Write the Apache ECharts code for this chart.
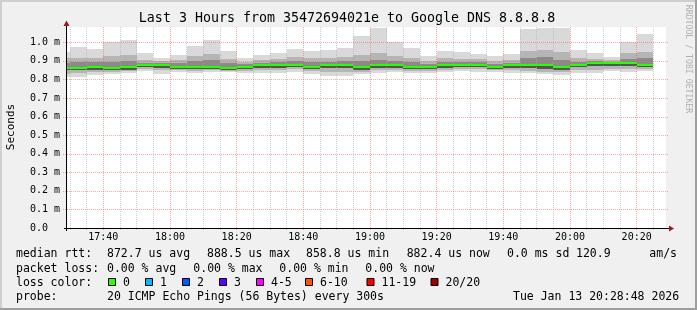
<!DOCTYPE html>
<html><head><meta charset="utf-8">
<script src="https://cdn.jsdelivr.net/npm/echarts@6/dist/echarts.min.js"></script>
<style>html,body{margin:0;padding:0;background:#f0f0f0;overflow:hidden}#c{width:697px;height:310px}</style>
</head><body><div id="c"></div>
<script>
// ---- data (ms) ----
const slotStarts = ['17:25','17:30','17:35','17:40','17:45','17:50','17:55','18:00','18:05','18:10','18:15','18:20',
  '18:25','18:30','18:35','18:40','18:45','18:50','18:55','19:00','19:05','19:10','19:15','19:20',
  '19:25','19:30','19:35','19:40','19:45','19:50','19:55','20:00','20:05','20:10','20:15','20:20'];
const medianRtt = [0.859,0.859,0.864,0.859,0.864,0.875,0.875,0.868,0.864,0.868,0.862,0.866,
  0.875,0.875,0.880,0.866,0.875,0.875,0.864,0.875,0.875,0.864,0.866,0.875,
  0.875,0.880,0.868,0.875,0.875,0.875,0.868,0.880,0.886,0.886,0.886,0.880];
const smokeMax = [0.950,0.976,0.965,0.999,1.013,0.943,0.916,0.931,0.981,1.010,0.954,0.913,
  0.933,0.943,0.965,0.954,0.960,0.970,1.035,1.074,1.003,0.970,0.927,0.954,
  0.949,0.938,0.927,0.938,1.073,1.077,1.077,0.960,0.943,0.922,0.999,1.042];
const smokeHi2 = [0.915,0.916,0.915,0.925,0.930,0.905,0.900,0.905,0.925,0.935,0.910,0.895,
  0.905,0.910,0.920,0.915,0.915,0.920,0.930,0.940,0.925,0.915,0.900,0.915,
  0.912,0.910,0.900,0.905,0.954,0.960,0.945,0.915,0.910,0.905,0.940,0.950];
const smokeHi1 = [0.890,0.895,0.893,0.895,0.900,0.890,0.888,0.890,0.900,0.905,0.890,0.882,
  0.890,0.892,0.898,0.893,0.895,0.897,0.900,0.905,0.900,0.893,0.885,0.895,
  0.893,0.895,0.885,0.890,0.915,0.920,0.905,0.895,0.898,0.895,0.910,0.915];
const smokeLo1 = [0.848,0.848,0.852,0.850,0.853,0.865,0.862,0.858,0.855,0.858,0.853,0.856,
  0.863,0.863,0.868,0.856,0.860,0.860,0.853,0.863,0.863,0.854,0.856,0.863,
  0.864,0.868,0.858,0.862,0.860,0.858,0.852,0.865,0.870,0.872,0.872,0.868];
const smokeLo2 = [0.830,0.834,0.838,0.840,0.843,0.855,0.848,0.850,0.845,0.850,0.847,0.845,
  0.850,0.850,0.855,0.843,0.840,0.840,0.842,0.850,0.852,0.846,0.845,0.852,
  0.855,0.855,0.850,0.850,0.845,0.842,0.838,0.848,0.852,0.858,0.855,0.855];
const smokeMin = [0.814,0.814,0.825,0.830,0.834,0.845,0.830,0.841,0.836,0.841,0.841,0.834,
  0.837,0.837,0.841,0.830,0.819,0.819,0.830,0.837,0.841,0.837,0.834,0.841,
  0.845,0.841,0.841,0.837,0.834,0.830,0.826,0.834,0.837,0.845,0.841,0.845];
const lossCount = new Array(36).fill(0);
const slotMinutes = 5;
const xStart = '17:28:48', xEnd = '20:28:48';
const xTickLabels = ['17:40','18:00','18:20','18:40','19:00','19:20','19:40','20:00','20:20'];
const yTickValues = [0,0.1,0.2,0.3,0.4,0.5,0.6,0.7,0.8,0.9,1.0];
const yMax = 1.082;
const lossLegend = ['0','1','2','3','4-5','6-10','11-19','20/20'];
const lossColors = ['#26ff00','#00b8ff','#0059ff','#5e00ff','#ff00ff','#ff5500','#ff0000','#a00000'];
const lossUpper = [0,1,2,3,5,10,19,20];

// ---- helpers ----
function toMin(s){const p=s.split(':').map(Number);return p[0]*60+p[1]+(p[2]||0)/60;}
function fmtMin(v){const h=Math.floor(v/60),m=Math.round(v-h*60);return (h<10?'0':'')+h+':'+(m<10?'0':'')+m;}
function clip(r,c){const x0=Math.max(r.x,c.x),y0=Math.max(r.y,c.y),x1=Math.min(r.x+r.width,c.x+c.width),y1=Math.min(r.y+r.height,c.y+c.height);
  if(x1<=x0||y1<=y0)return null;return {x:x0,y:y0,width:x1-x0,height:y1-y0};}
function lossColor(n){for(let i=0;i<lossUpper.length;i++){if(n<=lossUpper[i])return lossColors[i];}return lossColors[lossColors.length-1];}
const MONO='"DejaVu Sans Mono", monospace';
const xMin=toMin(xStart), xMax=toMin(xEnd);

function bandSeries(lo,hi,color,z){
  return {type:'custom',z:z,silent:true,animation:false,
    data:slotStarts.map((s,i)=>[toMin(s),toMin(s)+slotMinutes,lo[i],hi[i]]),
    encode:{x:[0,1],y:[2,3]},
    renderItem:function(params,api){
      const a=api.coord([api.value(0),api.value(3)]), b=api.coord([api.value(1),api.value(2)]);
      const cs=params.coordSys;
      const x0=Math.round(a[0]),x1=Math.round(b[0]),y0=Math.round(a[1]),y1=Math.round(b[1]);
      const r=clip({x:x0,y:y0,width:x1-x0,height:y1-y0},{x:cs.x,y:cs.y,width:cs.width,height:cs.height});
      return r?{type:'rect',shape:r,style:{fill:color}}:null;
    }};
}

const majorTimes = xTickLabels.map(toMin);
const minorTimes=[];
for(let t=Math.ceil(xMin/5)*5;t<=xMax;t+=5){if(majorTimes.indexOf(t)<0)minorTimes.push(t);}

function vGridSeries(times,color,z){
  return {type:'custom',z:z,silent:true,animation:false,
    data:times.map(t=>[t,0]),encode:{x:0,y:1},
    renderItem:function(params,api){
      const cs=params.coordSys;const x=Math.floor(api.coord([api.value(0),0])[0])+0.5;
      return {type:'line',shape:{x1:x,y1:cs.y,x2:x,y2:cs.y+cs.height+2},style:{stroke:color,lineWidth:1,lineDash:[1,1]}};
    }};
}
function hGridSeries(vals,color,z){
  return {type:'custom',z:z,silent:true,animation:false,
    data:vals.map(v=>[xMin,v]),encode:{x:0,y:1},
    renderItem:function(params,api){
      const cs=params.coordSys;const y=Math.round(api.coord([xMin,api.value(1)])[1])+0.5;
      return {type:'line',shape:{x1:cs.x-3,y1:y,x2:cs.x+cs.width+3,y2:y},style:{stroke:color,lineWidth:1,lineDash:[1,1]}};
    }};
}
const medianSeries={type:'custom',z:8,silent:true,animation:false,
  data:slotStarts.map((s,i)=>[toMin(s),toMin(s)+slotMinutes,medianRtt[i],lossCount[i]]),
  encode:{x:[0,1],y:2},
  renderItem:function(params,api){
    const a=api.coord([api.value(0),api.value(2)]),b=api.coord([api.value(1),api.value(2)]);
    const cs=params.coordSys;const x0=Math.round(a[0]),x1=Math.round(b[0]),y=Math.round(a[1]);
    const r=clip({x:x0,y:y-1,width:x1-x0,height:2},{x:cs.x,y:cs.y,width:cs.width,height:cs.height});
    return r?{type:'rect',shape:r,style:{fill:lossColor(api.value(3))}}:null;
  }};

// ---- texts ----
const legendRows=[
  {y:254,items:[[16,'median rtt:'],[107,'872.7 us avg'],[207,'888.5 us max'],[306,'858.8 us min'],[406.7,'882.4 us now'],[507,'0.0 ms sd'],[576,'120.9'],[649.3,'am/s']]},
  {y:268.7,items:[[16,'packet loss:'],[107,'0.00 % avg'],[193.3,'0.00 % max'],[279.3,'0.00 % min'],[365.3,'0.00 % now']]},
  {y:282.7,items:[[16,'loss color:']]},
  {y:296.7,items:[[16,'probe:'],[107,'20 ICMP Echo Pings (56 Bytes) every 300s'],[513,'Tue Jan 13 20:28:48 2026']]}
];
const boxX=[108,145,182,219,256,305,366.5,430.5];
const LEGFONT='11.5px '+MONO;
const graphics=[
  {type:'rect',shape:{x:0,y:0,width:697,height:310},style:{fill:'#f0f0f0'},z:-10},
  {type:'rect',shape:{x:0,y:0,width:697,height:2},style:{fill:'#cfcfcf'},z:-9},
  {type:'rect',shape:{x:0,y:0,width:2,height:310},style:{fill:'#cfcfcf'},z:-9},
  {type:'rect',shape:{x:0,y:308,width:697,height:2},style:{fill:'#9e9e9e'},z:-9},
  {type:'rect',shape:{x:695,y:0,width:2,height:310},style:{fill:'#9e9e9e'},z:-9},
  {type:'rect',shape:{x:66,y:27,width:600,height:201},style:{fill:'#ffffff'},z:-8},
  {type:'text',x:347,y:19,style:{text:'Last 3 Hours from 35472694021e to Google DNS 8.8.8.8',font:'13.3px '+MONO,fill:'#000',align:'center',verticalAlign:'middle'}},
  {type:'text',x:11,y:127,rotation:Math.PI/2,style:{text:'Seconds',font:'11px '+MONO,fill:'#000',align:'center',verticalAlign:'middle'}},
  {type:'text',x:688,y:59,rotation:-Math.PI/2,style:{text:'RRDTOOL / TOBI OETIKER',font:'8.2px '+MONO,fill:'#b0b0b0',align:'center',verticalAlign:'middle'}},
  // axes
  {type:'line',shape:{x1:64,y1:228.5,x2:670,y2:228.5},style:{stroke:'#000',lineWidth:1},z:20},
  {type:'line',shape:{x1:66.5,y1:231,x2:66.5,y2:24},style:{stroke:'#000',lineWidth:1},z:20},
  {type:'polygon',shape:{points:[[669,225.5],[674,228.5],[669,231.5]]},style:{fill:'#9b1a1a'},z:21},
  {type:'polygon',shape:{points:[[63.5,26],[66.5,20.5],[69.5,26]]},style:{fill:'#9b1a1a'},z:21}
];
legendRows.forEach(r=>r.items.forEach(it=>graphics.push({type:'text',x:it[0],y:r.y,style:{text:it[1],font:LEGFONT,fill:'#000',align:'left',verticalAlign:'middle'}})));
lossLegend.forEach((lab,i)=>{
  graphics.push({type:'rect',shape:{x:boxX[i]+0.5,y:278.5,width:7,height:7},style:{fill:lossColors[i],stroke:'#000',lineWidth:1}});
  graphics.push({type:'text',x:boxX[i]+15,y:282.7,style:{text:lab,font:LEGFONT,fill:'#000',align:'left',verticalAlign:'middle'}});
});

const chart=echarts.init(document.getElementById('c'),null,{renderer:'canvas'});
chart.setOption({
  animation:false,
  backgroundColor:'transparent',
  grid:{left:66,top:27,width:600,height:201,containLabel:false},
  xAxis:{type:'value',min:xMin,max:xMax,
    axisLine:{show:false},axisTick:{show:false},splitLine:{show:false},
    axisLabel:{customValues:majorTimes,formatter:v=>fmtMin(v),fontFamily:'DejaVu Sans Mono',fontSize:10,color:'#000',margin:4}},
  yAxis:{type:'value',min:0,max:yMax,
    axisLine:{show:false},axisTick:{show:false},splitLine:{show:false},
    axisLabel:{customValues:yTickValues,formatter:v=>v===0?'0.0':v.toFixed(1)+' m',fontFamily:'DejaVu Sans Mono',fontSize:10,color:'#000',align:'left',margin:36}},
  graphic:graphics,
  series:[
    bandSeries(smokeMin,smokeMax,'#d9d9d9',1),
    bandSeries(smokeLo2,smokeHi2,'#b5b5b5',2),
    bandSeries(smokeLo1,smokeHi1,'#8a8a8a',3),
    bandSeries(smokeLo1,medianRtt,'#555555',4),
    vGridSeries(minorTimes,'rgba(170,170,170,0.55)',5),
    vGridSeries(majorTimes,'rgba(255,80,80,0.5)',6),
    hGridSeries(yTickValues.filter(v=>v>0),'rgba(255,80,80,0.5)',6),
    medianSeries
  ]
});
</script></body></html>
